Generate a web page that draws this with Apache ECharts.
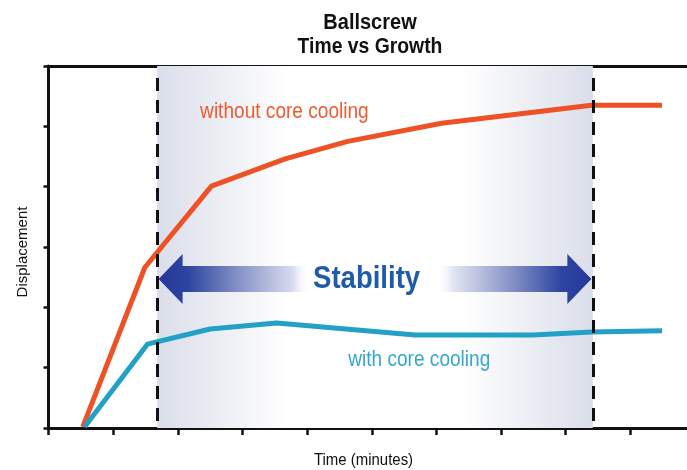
<!DOCTYPE html>
<html><head><meta charset="utf-8">
<script src="https://cdn.jsdelivr.net/npm/echarts@6/dist/echarts.min.js"></script>
<style>html,body{margin:0;padding:0;background:#fff;overflow:hidden}#c{width:695px;height:470px}</style>
</head><body><div id="c"></div>
<script>
// ---- data ----
const withoutX = [0.53, 1.49, 2.52, 3.66, 4.63, 6.08, 8.40, 9.49];
const withoutY = [0.02, 2.66, 4.01, 4.46, 4.75, 5.05, 5.35, 5.35];
const withX    = [0.56, 1.53, 2.50, 3.53, 5.67, 7.49, 8.40, 9.49];
const withY    = [0.02, 1.39, 1.64, 1.74, 1.54, 1.54, 1.59, 1.61];
const xRange = [0, 10];
const yRange = [0, 6];
const stabilityRange = [1.68, 8.42];
const dashRangeY = [5.8, 0.07];
const arrowY = 2.47;
const titleLines = ['Ballscrew', 'Time vs Growth'];
const labelWithout = { text: 'without core cooling', x: 2.345, y: 5.24 };
const labelWith = { text: 'with core cooling', x: 4.636, y: 1.13 };
const labelStability = { text: 'Stability', x: 4.92, y: 2.47 };
const xName = 'Time (minutes)';
const yName = 'Displacement';

const FONT = '"Liberation Sans", Arial, sans-serif';
const chart = echarts.init(document.getElementById('c'), null, { renderer: 'canvas' });

const axisCommon = {
  type: 'value', interval: 1,
  axisLabel: { show: false }, splitLine: { show: false }
};
const pairs = (xs, ys) => xs.map((x, i) => [x, ys[i]]);

chart.setOption({
  animation: false,
  backgroundColor: '#fff',
  grid: { left: 48.5, right: 0, top: 66, bottom: 42 },
  xAxis: [
    Object.assign({}, axisCommon, {
      min: xRange[0], max: xRange[1], position: 'bottom',
      axisLine: { show: true, onZero: false, lineStyle: { color: '#111', width: 3 } },
      axisTick: { show: true, length: 7, lineStyle: { color: '#111', width: 2.5 } }
    }),
    Object.assign({}, axisCommon, {
      min: xRange[0], max: xRange[1], position: 'top',
      axisLine: { show: true, onZero: false, lineStyle: { color: '#111', width: 3 } },
      axisTick: { show: false }
    })
  ],
  yAxis: Object.assign({}, axisCommon, {
    min: yRange[0], max: yRange[1],
    axisLine: { show: true, onZero: false, lineStyle: { color: '#111', width: 3 } },
    axisTick: { show: true, length: 5, lineStyle: { color: '#111', width: 2.5 } }
  }),
  series: [
    {
      type: 'line', data: [], z: 1, silent: true,
      markArea: {
        silent: true,
        itemStyle: {
          color: new echarts.graphic.LinearGradient(0, 0, 1, 0, [
            { offset: 0, color: '#dadeea' },
            { offset: 0.3, color: '#ffffff' },
            { offset: 0.7, color: '#ffffff' },
            { offset: 1, color: '#dadeea' }
          ])
        },
        data: [[{ xAxis: stabilityRange[0] }, { xAxis: stabilityRange[1] }]]
      }
    },
    {
      name: 'without core cooling', type: 'line', z: 3,
      data: pairs(withoutX, withoutY), symbol: 'none',
      lineStyle: { color: '#ee5124', width: 5, cap: 'butt' }
    },
    {
      name: 'with core cooling', type: 'line', z: 3,
      data: pairs(withX, withY), symbol: 'none',
      lineStyle: { color: '#23a0c6', width: 5, cap: 'butt' }
    },
    {
      type: 'line', data: [], z: 6, silent: true,
      markLine: {
        silent: true, symbol: ['none', 'none'], label: { show: false },
        lineStyle: { color: '#111', width: 3, type: [13, 9] },
        data: stabilityRange.map(x => [{ coord: [x, dashRangeY[0]] }, { coord: [x, dashRangeY[1]] }])
      }
    }
  ]
});

// annotations placed through the chart's own scales
const px = (x, y) => chart.convertToPixel({ gridIndex: 0 }, [x, y]);
const L = px(stabilityRange[0], arrowY);
const R = px(stabilityRange[1], arrowY);
const xL = L[0] + 1.5, xR = R[0] - 1.5, cy = L[1];
const hl = 24, hh = 25, sh = 13;
const pW = px(labelWithout.x, labelWithout.y);
const pC = px(labelWith.x, labelWith.y);
const pS = px(labelStability.x, labelStability.y);

chart.setOption({
  graphic: [
    {
      type: 'polygon', z: 10, silent: true,
      shape: { points: [
        [xL, cy], [xL + hl, cy - hh], [xL + hl, cy - sh], [xR - hl, cy - sh], [xR - hl, cy - hh],
        [xR, cy], [xR - hl, cy + hh], [xR - hl, cy + sh], [xL + hl, cy + sh], [xL + hl, cy + hh]
      ] },
      style: {
        fill: new echarts.graphic.LinearGradient(0, 0, 1, 0, [
          { offset: 0, color: '#25379a' },
          { offset: 0.07, color: '#2d46a1' },
          { offset: 0.19, color: '#8a95c8' },
          { offset: 0.31, color: '#d8dbef' },
          { offset: 0.35, color: 'rgba(255,255,255,0)' },
          { offset: 0.64, color: 'rgba(255,255,255,0)' },
          { offset: 0.68, color: '#e3e5f3' },
          { offset: 0.81, color: '#8a95c8' },
          { offset: 0.93, color: '#2d46a1' },
          { offset: 1, color: '#25379a' }
        ])
      }
    },
    {
      type: 'text', z: 11, silent: true, x: 370, y: 23.5, scaleX: 0.93,
      style: { text: titleLines[0], font: 'bold 21.5px ' + FONT, fill: '#111', align: 'center', verticalAlign: 'middle' }
    },
    {
      type: 'text', z: 11, silent: true, x: 370, y: 47.5, scaleX: 0.9,
      style: { text: titleLines[1], font: 'bold 21.5px ' + FONT, fill: '#111', align: 'center', verticalAlign: 'middle' }
    },
    {
      type: 'text', z: 11, silent: true, x: pS[0], y: pS[1], scaleX: 0.86,
      style: { text: labelStability.text, font: 'bold 32px ' + FONT, fill: '#1e5ba8', align: 'center', verticalAlign: 'middle' }
    },
    {
      type: 'text', z: 11, silent: true, x: pW[0], y: pW[1], scaleX: 0.867,
      style: { text: labelWithout.text, font: '22px ' + FONT, fill: '#ef5a2f', align: 'left', verticalAlign: 'middle' }
    },
    {
      type: 'text', z: 11, silent: true, x: pC[0], y: pC[1], scaleX: 0.867,
      style: { text: labelWith.text, font: '22px ' + FONT, fill: '#37a6cc', align: 'left', verticalAlign: 'middle' }
    },
    {
      type: 'text', z: 11, silent: true, x: 363.5, y: 460, scaleX: 0.88,
      style: { text: xName, font: '17px ' + FONT, fill: '#111', align: 'center', verticalAlign: 'middle' }
    },
    {
      type: 'text', z: 11, silent: true, x: 23.3, y: 252, rotation: Math.PI / 2,
      style: { text: yName, font: '15px ' + FONT, fill: '#111', align: 'center', verticalAlign: 'middle' }
    }
  ]
});
</script>
</body></html>
